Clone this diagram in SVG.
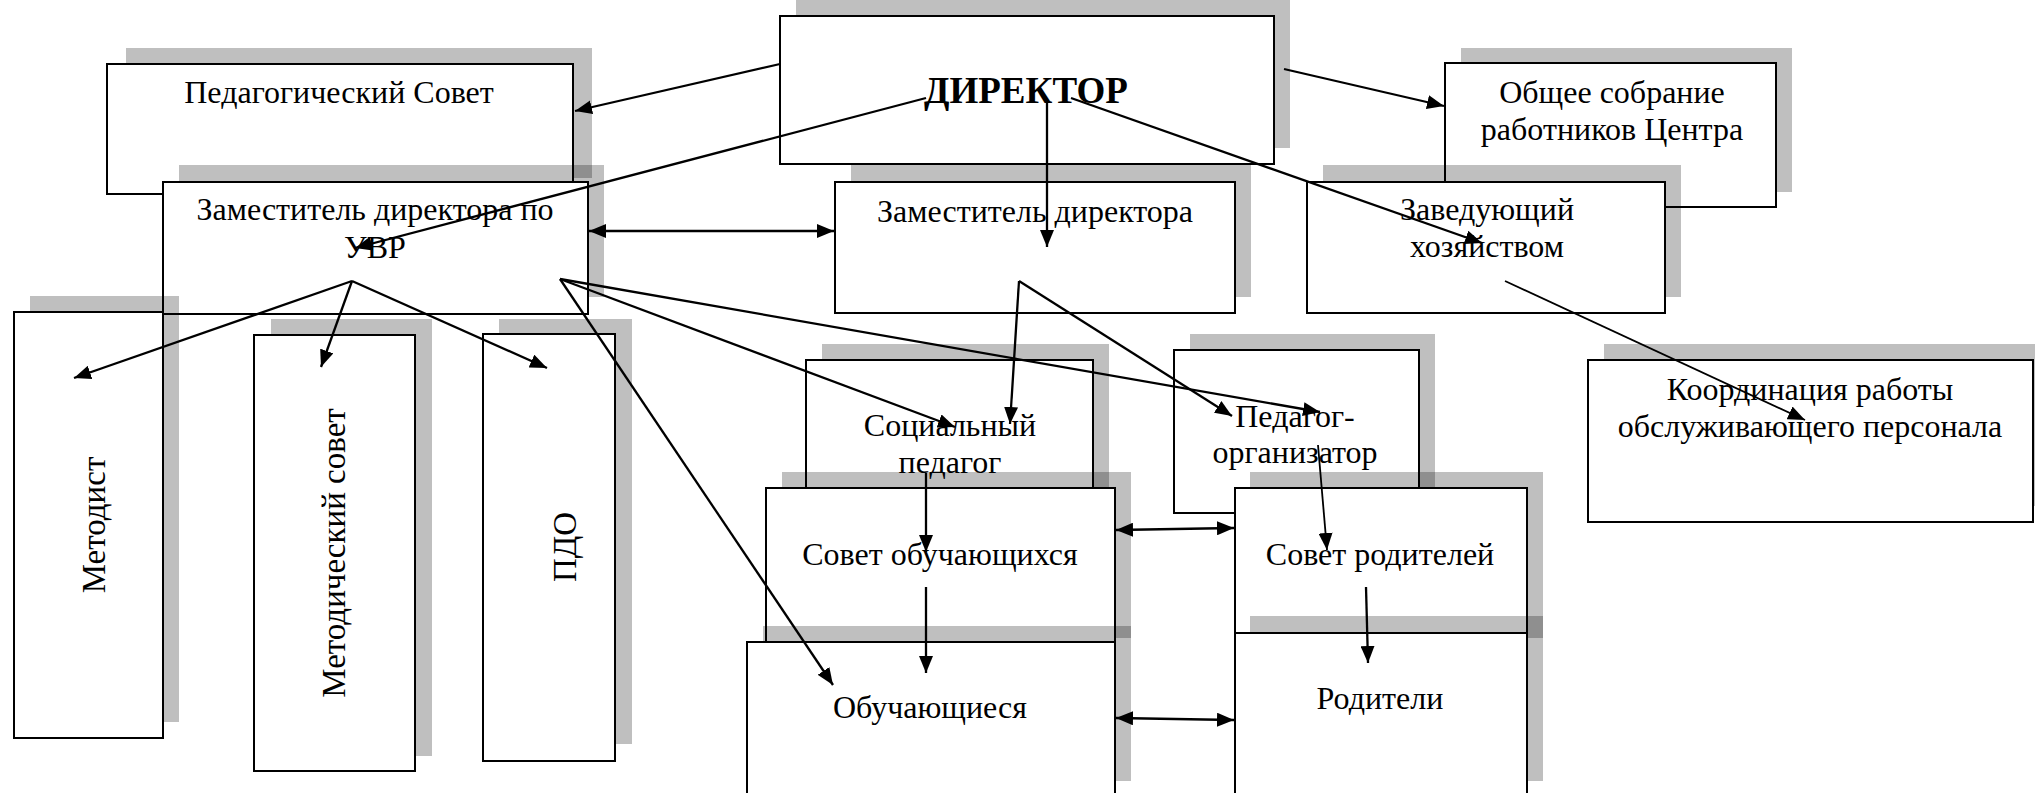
<svg xmlns="http://www.w3.org/2000/svg" width="2035" height="793" viewBox="0 0 2035 793">
<style>
.sh{fill:#000;fill-opacity:0.25}
.bx{fill:#fff;stroke:#000;stroke-width:2}
.t{font-family:"Liberation Serif","Times New Roman",serif;font-size:32px;fill:#000;text-anchor:middle}
.b{font-weight:bold;font-size:37px}
.v{font-size:33px}
.c{fill:none;stroke:#000;stroke-width:2.3;marker-end:url(#ah)}
.d{marker-start:url(#ah)}
.th{stroke-width:1.8}
</style>
<defs>
<marker id="ah" markerUnits="userSpaceOnUse" markerWidth="18" markerHeight="14" refX="17" refY="7" orient="auto-start-reverse">
<path d="M0,0 L17,7 L0,14 z" fill="#000"/>
</marker>
</defs>
<rect width="2035" height="793" fill="#fff"/>
<g id="ped-sovet"><rect class="sh" x="126" y="48" width="466" height="130"/><rect class="bx" x="107" y="64" width="466" height="130"/><text class="t" x="339" y="103">Педагогический Совет</text></g>
<g id="director"><rect class="sh" x="796" y="-10" width="494" height="158"/><rect class="bx" x="780" y="16" width="494" height="148"/><text class="t b" x="1026" y="103">ДИРЕКТОР</text></g>
<g id="obshchee"><rect class="sh" x="1461" y="48" width="331" height="144"/><rect class="bx" x="1445" y="63" width="331" height="144"/><text class="t" x="1612" y="103">Общее собрание</text><text class="t" x="1612" y="140">работников Центра</text></g>
<g id="zam-uvr"><rect class="sh" x="179" y="165" width="425" height="132"/><rect class="bx" x="163" y="182" width="425" height="132"/><text class="t" x="375" y="220">Заместитель директора по</text><text class="t" x="375" y="258">УВР</text></g>
<g id="zam"><rect class="sh" x="851" y="165" width="400" height="132"/><rect class="bx" x="835" y="182" width="400" height="131"/><text class="t" x="1035" y="222">Заместитель директора</text></g>
<g id="zavhoz"><rect class="sh" x="1323" y="165" width="358" height="132"/><rect class="bx" x="1307" y="182" width="358" height="131"/><text class="t" x="1487" y="220">Заведующий</text><text class="t" x="1487" y="257">хозяйством</text></g>
<g id="metodist"><rect class="sh" x="30" y="296" width="149" height="426"/><rect class="bx" x="14" y="312" width="149" height="426"/><text class="t v" transform="translate(105,525) rotate(-90)">Методист</text></g>
<g id="metod-sovet"><rect class="sh" x="271" y="319" width="161" height="437"/><rect class="bx" x="254" y="335" width="161" height="436"/><text class="t v" transform="translate(345,553) rotate(-90)">Методический совет</text></g>
<g id="pdo"><rect class="sh" x="499" y="319" width="133" height="425"/><rect class="bx" x="483" y="334" width="132" height="427"/><text class="t v" transform="translate(576,547) rotate(-90)">ПДО</text></g>
<g id="soc-ped"><rect class="sh" x="822" y="344" width="287" height="160"/><rect class="bx" x="806" y="360" width="287" height="160"/><text class="t" x="950" y="436">Социальный</text><text class="t" x="950" y="473">педагог</text></g>
<g id="ped-org"><rect class="sh" x="1190" y="334" width="245" height="163"/><rect class="bx" x="1174" y="350" width="245" height="163"/><text class="t" x="1295" y="427">Педагог-</text><text class="t" x="1295" y="463">организатор</text></g>
<g id="koord"><rect class="sh" x="1604" y="344" width="450" height="162"/><rect class="bx" x="1588" y="360" width="445" height="162"/><text class="t" x="1810" y="400">Координация работы</text><text class="t" x="1810" y="437">обслуживающего персонала</text></g>
<g id="sovet-obuch"><rect class="sh" x="782" y="472" width="349" height="166"/><rect class="bx" x="766" y="488" width="349" height="166"/><text class="t" x="940" y="565">Совет обучающихся</text></g>
<g id="sovet-rod"><rect class="sh" x="1250" y="472" width="293" height="166"/><rect class="bx" x="1235" y="488" width="292" height="166"/><text class="t" x="1380" y="565">Совет родителей</text></g>
<g id="obuch"><rect class="sh" x="763" y="626" width="368" height="155"/><rect class="bx" x="747" y="642" width="368" height="160"/><text class="t" x="930" y="718">Обучающиеся</text></g>
<g id="roditeli"><rect class="sh" x="1250" y="616" width="293" height="165"/><rect class="bx" x="1235" y="633" width="292" height="170"/><text class="t" x="1380" y="709">Родители</text></g>
<g id="connectors">
<line class="c" x1="780" y1="64" x2="575" y2="111"/>
<line class="c" x1="926" y1="98" x2="355" y2="248"/>
<line class="c" x1="1047" y1="103" x2="1047" y2="247"/>
<line class="c" x1="1071" y1="98" x2="1482" y2="243"/>
<line class="c" x1="1284" y1="69" x2="1444" y2="106"/>
<line class="c d" x1="589" y1="231" x2="834" y2="231"/>
<line class="c" x1="352" y1="281" x2="74" y2="378"/>
<line class="c" x1="352" y1="281" x2="321" y2="367"/>
<line class="c" x1="352" y1="281" x2="547" y2="368"/>
<line class="c" x1="560" y1="279" x2="833" y2="685"/>
<line class="c" x1="560" y1="279" x2="955" y2="427"/>
<line class="c" x1="560" y1="279" x2="1320" y2="412"/>
<line class="c" x1="1019" y1="281" x2="1010" y2="424"/>
<line class="c" x1="1019" y1="281" x2="1232" y2="416"/>
<line class="c th" x1="1505" y1="281" x2="1805" y2="420"/>
<line class="c" x1="926" y1="473" x2="926" y2="552"/>
<line class="c" x1="926" y1="587" x2="926" y2="673"/>
<line class="c th" x1="1318" y1="445" x2="1327" y2="550"/>
<line class="c" x1="1366" y1="587" x2="1368" y2="663"/>
<line class="c d" x1="1116" y1="530" x2="1234" y2="528"/>
<line class="c d" x1="1116" y1="718" x2="1234" y2="720"/>
</g>
</svg>
